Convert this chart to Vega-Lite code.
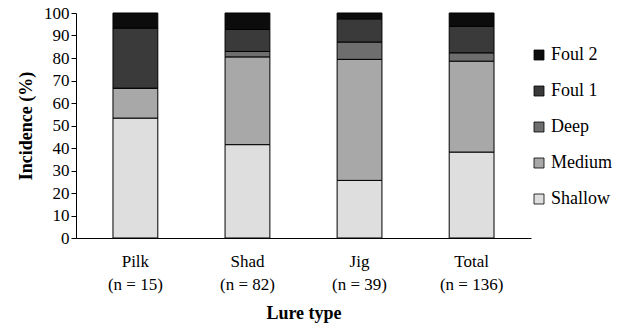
{
  "$schema": "https://vega.github.io/schema/vega-lite/v6.json",
  "width": 455,
  "height": 225,
  "autosize": "none",
  "padding": {"left": 76, "top": 13, "right": 88, "bottom": 90},
  "background": "white",
  "config": {
    "font": "Liberation Serif",
    "view": {"stroke": null},
    "axis": {"labelFont": "Liberation Serif", "titleFont": "Liberation Serif", "labelColor": "black", "titleColor": "black", "domainColor": "black", "tickColor": "black", "grid": false}
  },
  "data": {
    "values": [
      {"lure": "Pilk|(n = 15)", "segment": "Shallow", "pct": 53.3},
      {"lure": "Pilk|(n = 15)", "segment": "Medium", "pct": 13.3},
      {"lure": "Pilk|(n = 15)", "segment": "Deep", "pct": 0},
      {"lure": "Pilk|(n = 15)", "segment": "Foul 1", "pct": 26.7},
      {"lure": "Pilk|(n = 15)", "segment": "Foul 2", "pct": 6.7},
      {"lure": "Shad|(n = 82)", "segment": "Shallow", "pct": 41.5},
      {"lure": "Shad|(n = 82)", "segment": "Medium", "pct": 39.0},
      {"lure": "Shad|(n = 82)", "segment": "Deep", "pct": 2.4},
      {"lure": "Shad|(n = 82)", "segment": "Foul 1", "pct": 9.8},
      {"lure": "Shad|(n = 82)", "segment": "Foul 2", "pct": 7.3},
      {"lure": "Jig|(n = 39)", "segment": "Shallow", "pct": 25.6},
      {"lure": "Jig|(n = 39)", "segment": "Medium", "pct": 53.8},
      {"lure": "Jig|(n = 39)", "segment": "Deep", "pct": 7.7},
      {"lure": "Jig|(n = 39)", "segment": "Foul 1", "pct": 10.3},
      {"lure": "Jig|(n = 39)", "segment": "Foul 2", "pct": 2.6},
      {"lure": "Total|(n = 136)", "segment": "Shallow", "pct": 38.2},
      {"lure": "Total|(n = 136)", "segment": "Medium", "pct": 40.4},
      {"lure": "Total|(n = 136)", "segment": "Deep", "pct": 3.7},
      {"lure": "Total|(n = 136)", "segment": "Foul 1", "pct": 11.8},
      {"lure": "Total|(n = 136)", "segment": "Foul 2", "pct": 5.9}
    ]
  },
  "transform": [
    {"calculate": "indexof(['Shallow','Medium','Deep','Foul 1','Foul 2'], datum.segment)", "as": "stackOrder"}
  ],
  "mark": {"type": "bar", "stroke": "black", "strokeWidth": 1},
  "encoding": {
    "x": {
      "field": "lure", "type": "nominal", "sort": null,
      "scale": {"paddingInner": 0.6, "paddingOuter": 0.33},
      "axis": {"title": "Lure type", "titleFontSize": 18, "titleFontWeight": "bold", "titlePadding": 12,
               "labelAngle": 0, "labelFontSize": 17, "labelPadding": 15, "ticks": false,
               "labelExpr": "split(datum.label, '|')", "labelLineHeight": 23}
    },
    "y": {
      "field": "pct", "type": "quantitative", "stack": "zero",
      "scale": {"domain": [0, 100], "nice": false},
      "axis": {"title": "Incidence (%)", "titleFontSize": 18, "titleFontWeight": "bold", "titlePadding": 8,
               "values": [0,10,20,30,40,50,60,70,80,90,100], "labelFontSize": 17, "tickSize": 5, "labelPadding": 2}
    },
    "color": {
      "field": "segment", "type": "nominal",
      "scale": {"domain": ["Foul 2", "Foul 1", "Deep", "Medium", "Shallow"],
                "range": ["#0c0c0c", "#3a3a3a", "#6e6e6e", "#a8a8a8", "#dedede"]},
      "legend": {"title": null, "orient": "none", "legendX": 454, "legendY": 33,
                 "symbolType": "square", "symbolSize": 100, "symbolStrokeColor": "black", "symbolStrokeWidth": 0.8,
                 "labelFont": "Liberation Serif", "labelFontSize": 18, "labelColor": "black",
                 "rowPadding": 18, "labelOffset": 3}
    },
    "order": {"field": "stackOrder", "type": "quantitative"}
  }
}
